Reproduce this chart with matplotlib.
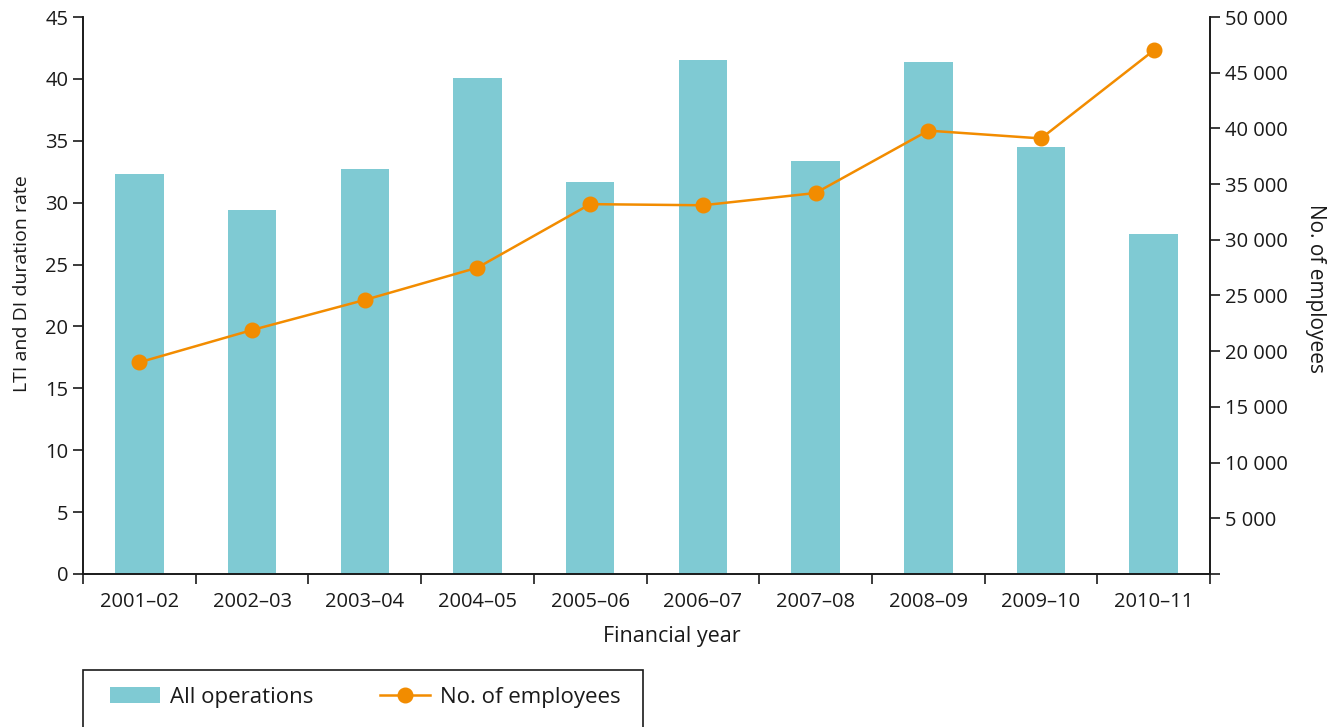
import matplotlib
matplotlib.use("Agg")
import matplotlib.pyplot as plt
from matplotlib.patches import Rectangle
from matplotlib.ticker import FixedLocator, FuncFormatter
import numpy as np

plt.rcParams['font.family'] = ['Open Sans', 'DejaVu Sans']

years = ["2001–02", "2002–03", "2003–04", "2004–05", "2005–06",
         "2006–07", "2007–08", "2008–09", "2009–10", "2010–11"]
duration_rate = [32.3, 29.4, 32.7, 40.1, 31.7, 41.5, 33.4, 41.4, 34.5, 27.5]
employees = [19000, 21900, 24600, 27500, 33200, 33100, 34200, 39800, 39100, 47000]

bar_color = "#7fcad3"
line_color = "#f28c00"
text_color = "#1a1a1a"

fig = plt.figure(figsize=(13.35, 7.27), dpi=100)
ax = fig.add_axes([0.0622, 0.2105, 0.8442, 0.7661])
ax2 = ax.twinx()

x = np.arange(len(years))
ax.bar(x, duration_rate, width=0.43, color=bar_color, zorder=2)
ax2.plot(x, employees, color=line_color, lw=1.8, marker="o", markersize=10.5,
         zorder=3)

ax.set_xlim(-0.5, len(years) - 0.5)
ax.set_ylim(0, 45)
ax2.set_ylim(0, 50000)

ax.set_yticks(np.arange(0, 46, 5))
ax2.set_yticks(np.arange(0, 50001, 5000))
ax2.yaxis.set_major_formatter(FuncFormatter(
    lambda v, p: "" if v == 0 else f"{int(v):,}".replace(",", " ")))

# Labels at category centres, tick marks at the category boundaries
ax.set_xticks(x)
ax.set_xticklabels(years)
ax.xaxis.set_minor_locator(FixedLocator(np.arange(-0.5, len(years), 1.0)))
ax.tick_params(axis="x", which="major", length=0, pad=13, labelsize=14.5,
               colors=text_color)
ax.tick_params(axis="x", which="minor", length=7, width=1.2, direction="out",
               colors=text_color)
ax.tick_params(axis="y", length=7, width=1.2, labelsize=14.5, colors=text_color)
ax2.tick_params(axis="y", length=7, width=1.2, labelsize=14.5, colors=text_color)

for a in (ax, ax2):
    a.spines["top"].set_visible(False)
    for s in ("left", "right", "bottom"):
        a.spines[s].set_linewidth(1.2)
        a.spines[s].set_color(text_color)

ax.set_xlabel("Financial year", fontsize=15.5, color=text_color, labelpad=10)
ax.xaxis.label.set_x(0.5226)
ax.set_ylabel("LTI and DI duration rate", fontsize=14, color=text_color,
              labelpad=10)
ax.yaxis.label.set_y(0.522)
ax2.set_ylabel("No. of employees", fontsize=15, color=text_color,
               rotation=-90, labelpad=28)
ax2.yaxis.label.set_y(0.512)

# Legend panel along the bottom edge
fig.add_artist(Rectangle((83 / 1335, -0.05), (643 - 83) / 1335,
                         1 - 670 / 727 + 0.05, transform=fig.transFigure,
                         facecolor="white", edgecolor=text_color, lw=1.2))
bar_handle = Rectangle((0, 0), 1, 1, facecolor=bar_color)
line_handle = plt.Line2D([], [], color=line_color, lw=1.8, marker="o",
                         markersize=10.5)
fig.legend([bar_handle, line_handle], ["All operations", "No. of employees"],
           loc="center left", bbox_to_anchor=(90 / 1335, 1 - 697 / 727),
           ncol=2, frameon=False, fontsize=16, handlelength=2.25,
           handleheight=0.75, handletextpad=0.45, columnspacing=3.0,
           labelcolor=text_color)

fig.savefig("out.png", dpi=100)
